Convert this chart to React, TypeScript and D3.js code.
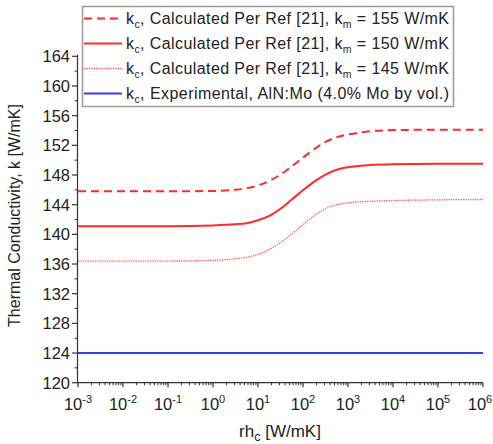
import React from 'react';
import * as d3 from 'd3';

const rhC = [0.001, 0.01, 0.1, 1, 3.16, 5.62, 10, 17.8, 31.6, 56.2, 100, 178, 316, 562, 1000, 3162, 10000, 100000, 1000000];
const kc155 = [145.8, 145.8, 145.8, 145.85, 146.0, 146.2, 146.6, 147.2, 148.05, 149.15, 150.35, 151.5, 152.45, 153.1, 153.45, 153.9, 154.05, 154.1, 154.1];
const kc150 = [141.1, 141.1, 141.1, 141.2, 141.35, 141.5, 141.9, 142.5, 143.45, 144.7, 145.95, 147.1, 148.05, 148.7, 149.05, 149.35, 149.45, 149.5, 149.5];
const kc145 = [136.4, 136.4, 136.4, 136.5, 136.7, 136.9, 137.3, 137.95, 138.9, 140.05, 141.3, 142.5, 143.45, 144.0, 144.25, 144.45, 144.55, 144.65, 144.7];
const kcExpX = [0.001, 1000000];
const kcExp = [124, 124];

const yTicks = [120, 124, 128, 132, 136, 140, 144, 148, 152, 156, 160, 164];
const xDecades = [-3, -2, -1, 0, 1, 2, 3, 4, 5, 6];
const legendMain = [
  { sub: 'c', mid: ', Calculated Per Ref [21], k', msub: 'm', tail: ' = 155 W/mK', kind: 'dash' },
  { sub: 'c', mid: ', Calculated Per Ref [21], k', msub: 'm', tail: ' = 150 W/mK', kind: 'solid' },
  { sub: 'c', mid: ', Calculated Per Ref [21], k', msub: 'm', tail: ' = 145 W/mK', kind: 'dot' },
  { sub: 'c', mid: ', Experimental, AlN:Mo (4.0% Mo by vol.)', msub: '', tail: '', kind: 'blue' },
];

const RED = '#ff2a2a';
const BLUE = '#3a3aff';
const AX = '#333333';
const FONT = 'Liberation Sans, Arial, sans-serif';

const styleFor = (kind: string) => {
  if (kind === 'dash') return { stroke: RED, strokeWidth: 2, strokeDasharray: '8 5' };
  if (kind === 'solid') return { stroke: RED, strokeWidth: 2 };
  if (kind === 'dot') return { stroke: RED, strokeWidth: 1.3, strokeDasharray: '1.3 1.1', strokeOpacity: 0.8 };
  return { stroke: BLUE, strokeWidth: 2 };
};

export default function App() {
  const x = d3.scaleLog().domain([1e-3, 1e6]).range([78, 483]);
  const y = d3.scaleLinear().domain([120, 164]).range([382.7, 56.3]);
  const line = d3
    .line<[number, number]>()
    .x((d) => x(d[0]))
    .y((d) => y(d[1]))
    .curve(d3.curveMonotoneX);
  const series = [
    { vals: kc155, xs: rhC, kind: 'dash' },
    { vals: kc150, xs: rhC, kind: 'solid' },
    { vals: kc145, xs: rhC, kind: 'dot' },
    { vals: kcExp, xs: kcExpX, kind: 'blue' },
  ];
  const x0 = x(1e-3);
  const x1 = x(1e6);
  const yb = y(120);
  const yMinor = yTicks.slice(0, -1).map((t) => t + 2);
  const xMinor: number[] = [];
  xDecades.slice(0, -1).forEach((d) => {
    for (let k = 2; k <= 9; k++) xMinor.push(k * Math.pow(10, d));
  });

  return (
    <svg width={493} height={444} style={{ position: 'absolute', left: 0, top: 0, background: '#fff' }} fontFamily={FONT}>
      <rect x={0} y={0} width={493} height={444} fill="#fff" />
      {series.map((s, i) => (
        <path
          key={i}
          d={line(s.xs.map((v, j) => [v, s.vals[j]] as [number, number])) || ''}
          fill="none"
          {...styleFor(s.kind)}
        />
      ))}
      {/* axes */}
      <line x1={x0 - 1} x2={x1} y1={yb} y2={yb} stroke={AX} strokeWidth={1.2} />
      <line x1={x0 - 0.5} x2={x0 - 0.5} y1={y(164) - 1.5} y2={yb} stroke={AX} strokeWidth={1.2} />
      {yTicks.map((t) => (
        <g key={t}>
          <line x1={x0 - 6} x2={x0} y1={y(t)} y2={y(t)} stroke={AX} strokeWidth={1.2} />
          <text x={x0 - 8} y={y(t)} dy="0.36em" textAnchor="end" fontSize={16.5} fill="#222">
            {t}
          </text>
        </g>
      ))}
      {yMinor.map((t) => (
        <line key={t} x1={x0 - 3.5} x2={x0} y1={y(t)} y2={y(t)} stroke={AX} strokeWidth={1} />
      ))}
      {xDecades.map((d, i) => {
        const px = x(Math.pow(10, d));
        const shift = i === xDecades.length - 1 ? -3 : 0;
        return (
          <g key={d}>
            <line x1={px} x2={px} y1={yb} y2={yb + 4.5} stroke={AX} strokeWidth={1.2} />
            <text x={px + shift} y={yb + 27} textAnchor="middle" fontSize={16.5} fill="#222">
              10
              <tspan dy={-7} fontSize={11}>
                {d}
              </tspan>
            </text>
          </g>
        );
      })}
      {xMinor.map((v, i) => (
        <line key={i} x1={x(v)} x2={x(v)} y1={yb} y2={yb + 2.5} stroke={AX} strokeWidth={1} />
      ))}
      {/* axis titles */}
      <text x={280} y={437} textAnchor="middle" fontSize={17} fill="#222">
        rh<tspan dy={4} fontSize={12.5}>c</tspan>
        <tspan dy={-4}> [W/mK]</tspan>
      </text>
      <text
        transform={`translate(20, ${(y(164) + yb) / 2 - 4}) rotate(-90)`}
        textAnchor="middle"
        fontSize={16}
        fill="#222"
      >
        Thermal Conductivity, k [W/mK]
      </text>
      {/* legend */}
      <rect x={82.5} y={6.5} width={371} height={100} fill="#fff" stroke="#9a9a9a" strokeWidth={1.5} />
      {legendMain.map((e, i) => {
        const ly = 18.5 + i * 25;
        return (
          <g key={i}>
            <line x1={84} x2={122} y1={ly} y2={ly} {...styleFor(e.kind)} />
            <text x={126} y={ly} dy="0.36em" fontSize={16} fill="#222" textLength={323} lengthAdjust="spacing">
              k<tspan dy={4} fontSize={10.5}>{e.sub}</tspan>
              <tspan dy={-4}>{e.mid}</tspan>
              {e.msub ? (
                <>
                  <tspan dy={4} fontSize={10.5}>{e.msub}</tspan>
                  <tspan dy={-4}>{e.tail}</tspan>
                </>
              ) : null}
            </text>
          </g>
        );
      })}
    </svg>
  );
}
